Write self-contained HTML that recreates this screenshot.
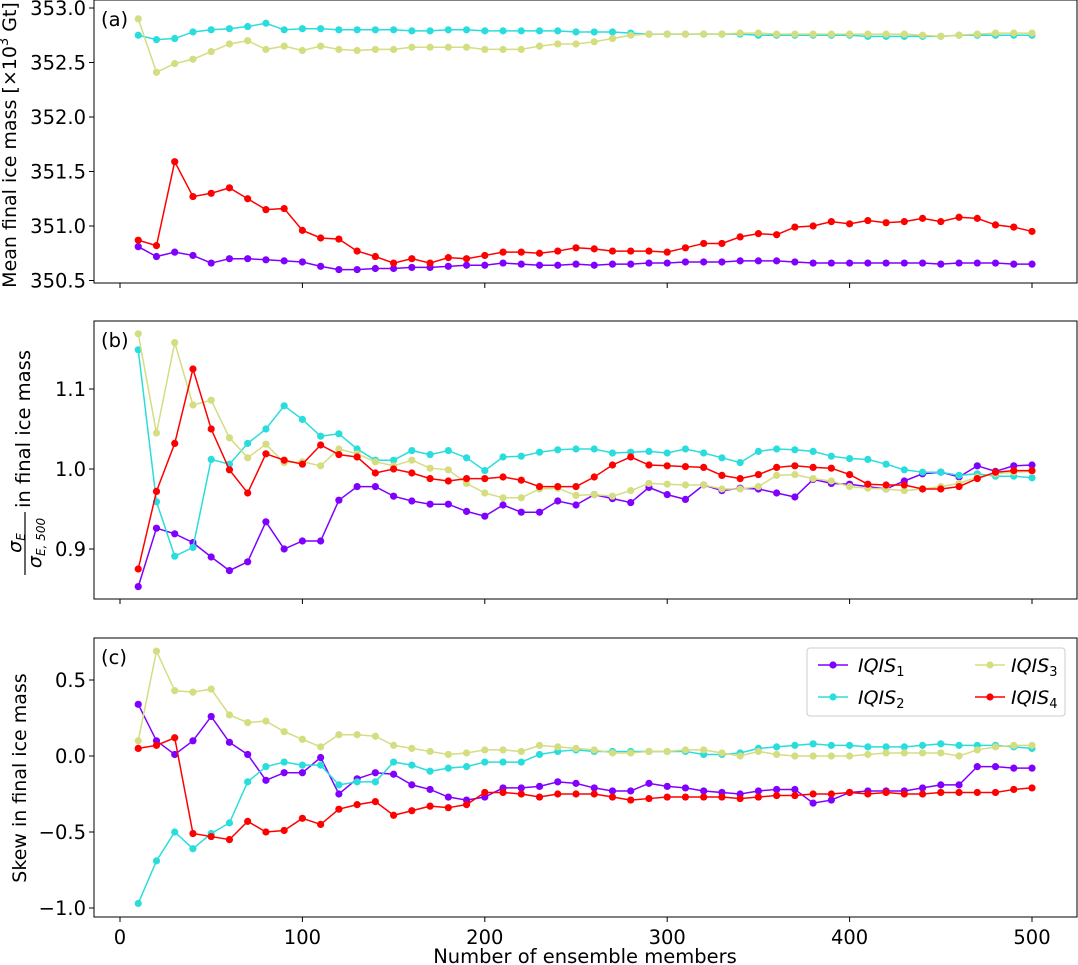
<!DOCTYPE html>
<html><head><meta charset="utf-8"><style>
body{margin:0;background:#fff}
svg{display:block;font-family:"DejaVu Sans","Liberation Sans",sans-serif}
</style></head><body>
<svg id="chart" width="1078" height="965" viewBox="0 0 1078 965" xmlns="http://www.w3.org/2000/svg"></svg>
<script>
const members=[10,20,30,40,50,60,70,80,90,100,110,120,130,140,150,160,170,180,190,200,210,220,230,240,250,260,270,280,290,300,310,320,330,340,350,360,370,380,390,400,410,420,430,440,450,460,470,480,490,500];
const xTicks=[0,100,200,300,400,500];
const seriesNames=["IQIS1","IQIS2","IQIS3","IQIS4"];
const meanIQIS1=[350.81,350.72,350.76,350.73,350.66,350.70,350.70,350.69,350.68,350.67,350.63,350.60,350.60,350.61,350.61,350.62,350.62,350.63,350.64,350.64,350.66,350.65,350.64,350.64,350.65,350.64,350.65,350.65,350.66,350.66,350.67,350.67,350.67,350.68,350.68,350.68,350.67,350.66,350.66,350.66,350.66,350.66,350.66,350.66,350.65,350.66,350.66,350.66,350.65,350.65];
const meanIQIS2=[352.75,352.71,352.72,352.78,352.80,352.81,352.83,352.86,352.80,352.81,352.81,352.80,352.80,352.80,352.80,352.79,352.79,352.80,352.80,352.79,352.79,352.79,352.79,352.79,352.78,352.78,352.78,352.77,352.76,352.76,352.76,352.76,352.76,352.76,352.75,352.75,352.75,352.75,352.75,352.75,352.74,352.74,352.74,352.74,352.74,352.75,352.75,352.75,352.75,352.75];
const meanIQIS3=[352.90,352.41,352.49,352.53,352.60,352.67,352.70,352.62,352.65,352.61,352.65,352.62,352.61,352.62,352.62,352.64,352.64,352.64,352.64,352.62,352.62,352.62,352.65,352.67,352.67,352.69,352.72,352.75,352.76,352.76,352.76,352.76,352.76,352.77,352.77,352.76,352.76,352.76,352.76,352.76,352.76,352.76,352.76,352.75,352.74,352.75,352.76,352.77,352.77,352.77];
const meanIQIS4=[350.87,350.82,351.59,351.27,351.30,351.35,351.25,351.15,351.16,350.96,350.89,350.88,350.77,350.72,350.66,350.70,350.66,350.71,350.70,350.73,350.76,350.76,350.75,350.77,350.80,350.79,350.77,350.77,350.77,350.76,350.80,350.84,350.84,350.90,350.93,350.92,350.99,351.00,351.04,351.02,351.05,351.03,351.04,351.07,351.04,351.08,351.07,351.01,350.99,350.95];
const sdIQIS1=[0.853,0.926,0.919,0.908,0.890,0.873,0.884,0.934,0.900,0.910,0.910,0.961,0.978,0.978,0.966,0.960,0.956,0.956,0.947,0.941,0.955,0.946,0.946,0.960,0.955,0.968,0.963,0.958,0.977,0.968,0.962,0.980,0.973,0.976,0.975,0.970,0.965,0.987,0.982,0.981,0.978,0.975,0.985,0.994,0.996,0.990,1.004,0.997,1.004,1.005];
const sdIQIS2=[1.149,0.959,0.891,0.902,1.012,1.006,1.032,1.050,1.079,1.062,1.041,1.044,1.025,1.011,1.011,1.023,1.018,1.023,1.014,0.998,1.015,1.016,1.021,1.024,1.025,1.025,1.020,1.021,1.022,1.020,1.025,1.020,1.014,1.008,1.022,1.025,1.024,1.022,1.016,1.013,1.012,1.006,0.999,0.996,0.996,0.992,0.994,0.991,0.991,0.989];
const sdIQIS3=[1.169,1.045,1.158,1.080,1.086,1.039,1.014,1.031,1.008,1.009,1.004,1.025,1.019,1.009,1.004,1.011,1.001,0.999,0.982,0.970,0.964,0.964,0.975,0.976,0.967,0.968,0.966,0.973,0.982,0.981,0.980,0.980,0.975,0.975,0.978,0.992,0.993,0.988,0.985,0.978,0.976,0.975,0.973,0.975,0.978,0.982,0.990,0.994,0.996,0.997];
const sdIQIS4=[0.875,0.972,1.032,1.125,1.050,0.999,0.970,1.019,1.011,1.006,1.030,1.018,1.015,0.995,1.000,0.995,0.988,0.985,0.988,0.988,0.990,0.986,0.978,0.978,0.978,0.990,1.005,1.015,1.005,1.004,1.003,1.002,0.992,0.988,0.993,1.002,1.004,1.002,1.001,0.993,0.981,0.980,0.980,0.975,0.975,0.978,0.988,0.996,0.998,0.998];
const skewIQIS1=[0.34,0.10,0.01,0.10,0.26,0.09,0.01,-0.16,-0.11,-0.11,-0.01,-0.25,-0.15,-0.11,-0.12,-0.19,-0.22,-0.27,-0.29,-0.27,-0.21,-0.21,-0.20,-0.17,-0.18,-0.21,-0.23,-0.23,-0.18,-0.20,-0.21,-0.23,-0.24,-0.25,-0.23,-0.22,-0.22,-0.31,-0.29,-0.24,-0.23,-0.23,-0.23,-0.21,-0.19,-0.19,-0.07,-0.07,-0.08,-0.08];
const skewIQIS2=[-0.97,-0.69,-0.50,-0.61,-0.51,-0.44,-0.17,-0.07,-0.04,-0.06,-0.06,-0.19,-0.17,-0.17,-0.04,-0.06,-0.10,-0.08,-0.07,-0.04,-0.04,-0.04,0.01,0.03,0.04,0.03,0.03,0.03,0.03,0.03,0.03,0.01,0.01,0.02,0.05,0.06,0.07,0.08,0.07,0.07,0.06,0.06,0.06,0.07,0.08,0.07,0.07,0.07,0.06,0.05];
const skewIQIS3=[0.10,0.69,0.43,0.42,0.44,0.27,0.22,0.23,0.16,0.11,0.06,0.14,0.14,0.13,0.07,0.05,0.03,0.01,0.02,0.04,0.04,0.03,0.07,0.06,0.05,0.04,0.02,0.02,0.03,0.03,0.04,0.04,0.02,0.00,0.03,0.01,0.00,0.00,0.00,0.00,0.01,0.02,0.02,0.02,0.02,0.00,0.04,0.06,0.07,0.07];
const skewIQIS4=[0.05,0.07,0.12,-0.51,-0.53,-0.55,-0.43,-0.50,-0.49,-0.41,-0.45,-0.35,-0.32,-0.30,-0.39,-0.36,-0.33,-0.34,-0.32,-0.24,-0.24,-0.25,-0.27,-0.25,-0.25,-0.25,-0.27,-0.29,-0.28,-0.27,-0.27,-0.27,-0.27,-0.28,-0.27,-0.26,-0.26,-0.25,-0.25,-0.24,-0.25,-0.24,-0.25,-0.25,-0.24,-0.24,-0.24,-0.24,-0.22,-0.21];
const ticksA=[350.5,351.0,351.5,352.0,352.5,353.0];
const ticksB=[0.9,1.0,1.1];
const ticksC=[-1.0,-0.5,0.0,0.5];

const colors=["#8000ff","#2adddd","#d4dd80","#ff0000"];
const NS="http://www.w3.org/2000/svg";
const svg=document.getElementById('chart');
const FS=19.5;
function mk(tag,attrs,parent){const e=document.createElementNS(NS,tag);for(const k in attrs)e.setAttribute(k,attrs[k]);(parent||svg).appendChild(e);return e;}
const L=94,R=1077;
const xs=v=>120+v*1.824;

function panel(key,top,bottom,y0,yPix0,y1,yPix1,ticks,fmt,data,label,showX){
  const ys=v=>yPix0+(v-y0)*(yPix1-yPix0)/(y1-y0);
  const g=mk('g',{});
  
  
  ticks.forEach(t=>{
    const y=ys(t);
    const tk=mk('line',{x1:L-5,x2:L,y1:y,y2:y,stroke:'#000','stroke-width':1},g);
    
    
    const tx=mk('text',{x:L-8,y:y+7,'text-anchor':'end','font-size':FS},g);
    
    
    tx.textContent=fmt(t).replace('-','\u2212');
  });
  xTicks.forEach(t=>{
    const x=xs(t);
    const tk=mk('line',{x1:x,x2:x,y1:bottom,y2:bottom+5,stroke:'#000','stroke-width':1},g);
    
    
    if(showX){
      const tx=mk('text',{x:x,y:bottom+27,'text-anchor':'middle','font-size':FS},g);
      
      
      tx.textContent=t;
    }
  });
  data.forEach((arr,si)=>{
    const pts=arr.map((v,i)=>xs(members[i])+','+ys(v)).join(' ');
    const pl=mk('polyline',{points:pts,fill:'none',stroke:colors[si],'stroke-width':1.5},g);
    
    
    arr.forEach((v,i)=>{
      const c=mk('circle',{cx:xs(members[i]),cy:ys(v),r:3.6,fill:colors[si]},g);
      
      
    });
  });
  const fr=mk('rect',{x:L,y:top,width:R-L,height:bottom-top,fill:'none',stroke:'#000','stroke-width':1},g);
  
  
  const pt=mk('text',{x:101,y:top+26,'font-size':FS},g);
  
  
  pt.textContent='('+key+')';
}
panel('a',0,283,353.0,8,350.5,280.5,ticksA,v=>v.toFixed(1),[meanIQIS1,meanIQIS2,meanIQIS3,meanIQIS4]);
panel('b',321,599,1.0,469,1.1,389,ticksB,v=>v.toFixed(1),[sdIQIS1,sdIQIS2,sdIQIS3,sdIQIS4]);
panel('c',638,917,0.0,756,0.5,680,ticksC,v=>v.toFixed(1),[skewIQIS1,skewIQIS2,skewIQIS3,skewIQIS4],null,true);
</script>
<svg style="position:absolute;left:0;top:0" width="1078" height="965" xmlns="http://www.w3.org/2000/svg" font-family="DejaVu Sans, Liberation Sans, sans-serif">
  <text transform="translate(16,145) rotate(-90)" text-anchor="middle" font-size="19">Mean final ice mass [×10<tspan dy="-8" font-size="13">3</tspan><tspan dy="8"> Gt]</tspan></text>
  <g transform="rotate(-90)">
    <text x="-508" y="30" text-anchor="start" font-size="19.5" textLength="158" lengthAdjust="spacingAndGlyphs">in final ice mass</text>
    <line x1="-575" x2="-512" y1="25" y2="25" stroke="#000" stroke-width="1.2"/>
    <text x="-543" y="21" text-anchor="middle" font-style="italic" font-size="19">σ<tspan font-size="12" dy="4">E</tspan></text>
    <text x="-543" y="41" text-anchor="middle" font-style="italic" font-size="19">σ<tspan font-size="12" dy="4">E, 500</tspan></text>
  </g>
  <text transform="translate(26,778) rotate(-90)" text-anchor="middle" font-size="19">Skew in final ice mass</text>
  <text x="585" y="963" text-anchor="middle" font-size="19.5">Number of ensemble members</text>
  <g>
    <rect x="807" y="648" width="258" height="68" rx="3" fill="#fff" stroke="#ccc"/>
    <g><line x1="818" x2="848" y1="665" y2="665" stroke="#8000ff" stroke-width="1.5"/><circle cx="833" cy="665" r="3.6" fill="#8000ff"/><text x="858" y="672" font-size="19" font-style="italic">IQIS<tspan font-size="13" dy="4" font-style="normal">1</tspan></text></g>
    <g><line x1="975" x2="1005" y1="665" y2="665" stroke="#d4dd80" stroke-width="1.5"/><circle cx="990" cy="665" r="3.6" fill="#d4dd80"/><text x="1011" y="672" font-size="19" font-style="italic">IQIS<tspan font-size="13" dy="4" font-style="normal">3</tspan></text></g>
    <g><line x1="818" x2="848" y1="697" y2="697" stroke="#2adddd" stroke-width="1.5"/><circle cx="833" cy="697" r="3.6" fill="#2adddd"/><text x="858" y="704" font-size="19" font-style="italic">IQIS<tspan font-size="13" dy="4" font-style="normal">2</tspan></text></g>
    <g><line x1="975" x2="1005" y1="697" y2="697" stroke="#ff0000" stroke-width="1.5"/><circle cx="990" cy="697" r="3.6" fill="#ff0000"/><text x="1011" y="704" font-size="19" font-style="italic">IQIS<tspan font-size="13" dy="4" font-style="normal">4</tspan></text></g>
  </g>
</svg>
</body></html>
